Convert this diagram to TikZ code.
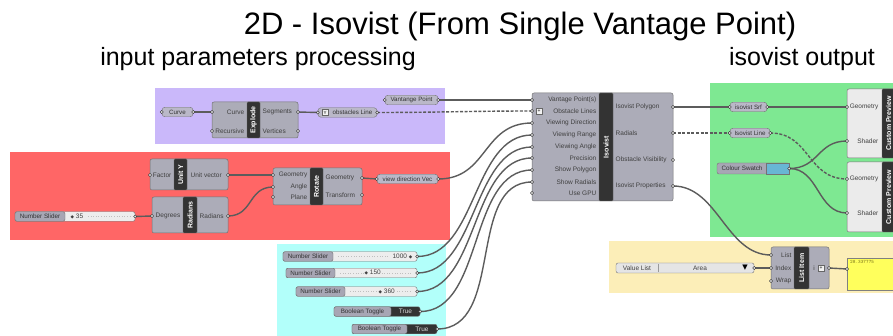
\documentclass[tikz,border=0pt]{standalone}
\usepackage{fontspec}
\setmainfont{Liberation Sans}
\newfontfamily\symfont{DejaVu Sans}
\usetikzlibrary{positioning, arrows.meta, shapes, calc}
\definecolor{grpPurple}{RGB}{202,184,250}
\definecolor{grpRed}{RGB}{255,102,102}
\definecolor{grpCyan}{RGB}{178,255,250}
\definecolor{grpGreen}{RGB}{126,232,146}
\definecolor{grpYellow}{RGB}{252,238,184}
\definecolor{compFill}{RGB}{172,172,184}
\definecolor{prmFill}{RGB}{186,184,200}
\definecolor{wireGray}{RGB}{92,92,92}
\definecolor{swatchBlue}{RGB}{104,182,212}
\definecolor{panelYellow}{RGB}{255,255,92}

\pgfdeclarelayer{groups}
\pgfdeclarelayer{wires}
\pgfsetlayers{groups,wires,main}

\tikzset{
  comp/.style={draw=black!55, fill=compFill, rounded corners=2pt, line width=0.5pt, inner sep=0pt},
  band/.style={draw=black!60, fill=black!80, rounded corners=1pt, text=white, inner sep=0pt, rotate=90,
               font=\bfseries\fontsize{7}{8}\selectfont},
  prm/.style={draw=black!55, fill=prmFill, rounded corners=3pt, inner sep=0pt, minimum height=9.5pt,
              font=\fontsize{6.2}{7}\selectfont, text=black!80},
  port/.style={circle, draw=black!85, fill=black!12, line width=0.4pt, inner sep=0pt, minimum size=3.2pt},
  lbl/.style={font=\fontsize{6.5}{7}\selectfont, text=black!75, inner sep=0.5pt},
  slider/.style={draw=black!55, fill=black!7, rounded corners=2pt, inner sep=0pt, minimum height=9.5pt},
  sldlabel/.style={draw=black!55, fill=prmFill!90!black, rounded corners=2pt, inner sep=0pt, minimum height=9.5pt,
                   font=\fontsize{6.3}{7}\selectfont, text=black!80},
  wire/.style={draw=wireGray, line width=1.4pt},
  listwire/.style={wire, dash pattern=on 3pt off 1.6pt},
}

\begin{document}
\begin{tikzpicture}[x=1pt, y=-1pt]
\useasboundingbox (0,0) rectangle (893,336);
\clip (0,0) rectangle (893,336);

% groups
\begin{pgfonlayer}{groups}
  \fill[white] (0,0) rectangle (893,336);
  \fill[grpPurple] (155,88) rectangle (445,144);
  \fill[grpRed] (10,152) rectangle (450,240);
  \fill[grpCyan] (277,244) rectangle (446,340);
  \fill[grpGreen] (710,83) rectangle (900,237);
  \fill[grpYellow] (609,241) rectangle (900,293);
\end{pgfonlayer}

% headings
\node[font=\fontsize{31}{36}\selectfont, anchor=base, inner sep=0pt] (title) at (520,35) {2D - Isovist (From Single Vantage Point)};
\node[font=\fontsize{25}{30}\selectfont, anchor=base, inner sep=0pt] (subIn) at (258,66) {input parameters processing};
\node[font=\fontsize{25}{30}\selectfont, anchor=base, inner sep=0pt] (subOut) at (802,66) {isovist output};

% ---- curve / explode
\node[prm, minimum width=31pt] (curve) at (177.5,112) {Curve};
\node[port] (curve-in) at (curve.west) {};
\node[port] (curve-out) at (curve.east) {};

\node[comp, minimum width=86pt, minimum height=36pt] (explode) at (255,120) {};
\node[band, minimum width=36pt, minimum height=13pt] (explodeNick) at (253.5,120) {Explode};
\node[lbl, anchor=east] at (245,112) {Curve};
\node[lbl, anchor=east] at (245,131) {Recursive};
\node[lbl, anchor=west] at (262,112) {Segments};
\node[lbl, anchor=west] at (262,131) {Vertices};
\node[port] (explode-curve) at (212,112) {};
\node[port] (explode-rec) at (212,131) {};
\node[port] (explode-seg) at (298,112) {};
\node[port] (explode-vert) at (298,131) {};

\node[prm, minimum width=59pt] (obstLine) at (347.5,112.5) {\hspace{10pt}obstacles Line};
\node[draw=black!60, fill=black!5, minimum size=6pt, inner sep=0pt, font=\fontsize{4.5}{5}\selectfont] (obstIcon) at (325,112.5) {Y};
\node[port] (obstLine-in) at (obstLine.west) {};
\node[port] (obstLine-out) at (obstLine.east) {};

\node[prm, minimum width=53pt] (vantage) at (411.5,100) {Vantange Point};
\node[port] (vantage-in) at (vantage.west) {};
\node[port] (vantage-out) at (vantage.east) {};

% ---- direction vector
\node[comp, minimum width=78pt, minimum height=31pt] (unitY) at (189,174.5) {};
\node[band, minimum width=31pt, minimum height=13pt] (unitYNick) at (180.5,174.5) {Unit Y};
\node[lbl, anchor=east] at (172,175) {Factor};
\node[lbl, anchor=west] at (190,175) {Unit vector};
\node[port] (unitY-fac) at (150,175) {};
\node[port] (unitY-vec) at (228,175) {};

\node[comp, minimum width=76pt, minimum height=36pt] (radians) at (190,215) {};
\node[band, minimum width=36pt, minimum height=14pt] (radiansNick) at (190,215) {Radians};
\node[lbl, anchor=east] at (181,216) {Degrees};
\node[lbl, anchor=west] at (199,216) {Radians};
\node[port] (radians-deg) at (152,216) {};
\node[port] (radians-rad) at (228,216) {};

\node[slider, minimum width=120pt] (sldAngle) at (75,216.5) {};
\node[sldlabel, minimum width=50pt, anchor=west] at (sldAngle.west) {Number Slider};
\node[lbl, anchor=west] at (70,216.5) {{\symfont\fontsize{4.5}{5}\selectfont◆} 35};
\draw[black!25, dotted, line width=0.6pt] (88,216.5) -- (130,216.5);
\node[port] (sldAngle-out) at (sldAngle.east) {};

\node[comp, minimum width=89pt, minimum height=37pt] (rotate) at (317.5,186.5) {};
\node[band, minimum width=37pt, minimum height=13pt] (rotateNick) at (316.5,186.5) {Rotate};
\node[lbl, anchor=east] at (308,175) {Geometry};
\node[lbl, anchor=east] at (308,187) {Angle};
\node[lbl, anchor=east] at (308,197) {Plane};
\node[lbl, anchor=west] at (325,178) {Geometry};
\node[lbl, anchor=west] at (325,195) {Transform};
\node[port] (rotate-geo) at (273,175) {};
\node[port] (rotate-ang) at (273,187) {};
\node[port] (rotate-pln) at (273,197) {};
\node[port] (rotate-out) at (362,178) {};
\node[port] (rotate-xf) at (362,195) {};

\node[prm, minimum width=61pt] (viewDir) at (407.5,179) {view direction Vec};
\node[port] (viewDir-in) at (viewDir.west) {};
\node[port] (viewDir-out) at (viewDir.east) {};

% ---- sliders and toggles
\node[slider, minimum width=134pt] (sldRange) at (350,256.5) {};
\node[sldlabel, minimum width=50pt, anchor=west] at (sldRange.west) {Number Slider};
\draw[black!25, dotted, line width=0.6pt] (338,256.5) -- (388,256.5);
\node[lbl, anchor=east] at (413,256.5) {1000 {\symfont\fontsize{4.5}{5}\selectfont◆}};
\node[port] (sldRange-out) at (sldRange.east) {};

\node[slider, minimum width=131pt] (sldView) at (351.5,273) {};
\node[sldlabel, minimum width=49pt, anchor=west] at (sldView.west) {Number Slider};
\draw[black!25, dotted, line width=0.6pt] (340,273) -- (412,273);
\node[lbl, anchor=west, fill=black!7] at (364,273) {{\symfont\fontsize{4.5}{5}\selectfont◆} 150};
\node[port] (sldView-out) at (sldView.east) {};

\node[slider, minimum width=121pt] (sldPrec) at (356.5,291.5) {};
\node[sldlabel, minimum width=49pt, anchor=west] at (sldPrec.west) {Number Slider};
\draw[black!25, dotted, line width=0.6pt] (350,291.5) -- (412,291.5);
\node[lbl, anchor=west, fill=black!7] at (378,291.5) {{\symfont\fontsize{4.5}{5}\selectfont◆} 360};
\node[port] (sldPrec-out) at (sldPrec.east) {};

\node[slider, minimum width=86pt, fill=black!80] (tglPoly) at (377,311.5) {};
\node[sldlabel, minimum width=57pt, anchor=west] at (tglPoly.west) {Boolean Toggle};
\node[font=\fontsize{6.5}{7}\selectfont, text=white!85!black, inner sep=0pt] at (405.5,311.5) {True};
\node[port] (tglPoly-out) at (tglPoly.east) {};

\node[slider, minimum width=85pt, fill=black!80] (tglRad) at (394.5,329) {};
\node[sldlabel, minimum width=55pt, anchor=west] at (tglRad.west) {Boolean Toggle};
\node[font=\fontsize{6.5}{7}\selectfont, text=white!85!black, inner sep=0pt] at (422,329) {True};
\node[port] (tglRad-out) at (tglRad.east) {};

% ---- isovist component
\node[comp, minimum width=141pt, minimum height=108pt] (isovist) at (602.5,147) {};
\node[band, minimum width=108pt, minimum height=14pt] (isovistNick) at (606,147) {Isovist};
\foreach \txt/\yy [count=\i] in {Vantage Point(s)/100, Obstacle Lines/111, Viewing Direction/123,
    Viewing Range/135, Viewing Angle/147, Precision/158, Show Polygon/170, Show Radials/182, Use GPU/193}
{
  \node[lbl, anchor=east] at (597,\yy) {\txt};
  \node[port] (iso-in\i) at (532,\yy) {};
}
\foreach \txt/\yy [count=\i] in {Isovist Polygon/107, Radials/133, Obstacle Visibility/160, Isovist Properties/186}
{
  \node[lbl, anchor=west] at (615,\yy) {\txt};
  \node[port] (iso-out\i) at (673,\yy) {};
}
\node[draw=black!60, fill=black!5, minimum size=6pt, inner sep=0pt, font=\fontsize{5}{5}\selectfont] (isoFlat) at (539,111) {+};

% ---- preview
\node[prm, minimum width=37pt] (isoSrf) at (748.5,107) {isovist Srf};
\node[port] (isoSrf-in) at (isoSrf.west) {};
\node[port] (isoSrf-out) at (isoSrf.east) {};

\node[prm, minimum width=40pt] (isoLine) at (750,133) {Isovist Line};
\node[port] (isoLine-in) at (isoLine.west) {};
\node[port] (isoLine-out) at (isoLine.east) {};

\node[sldlabel, minimum width=72pt, minimum height=11pt] (swatch) at (753,168.5) {\hspace{-22pt}Colour Swatch};
\node[draw=black!55, fill=swatchBlue, minimum width=23pt, minimum height=11pt, inner sep=0pt, anchor=east] (swatchCol) at (swatch.east) {};
\node[port] (swatch-out) at (swatch.east) {};

\node[comp, fill=black!8, minimum width=50pt, minimum height=69pt] (prevA) at (872,123.5) {};
\node[band, minimum width=69pt, minimum height=13pt] (prevANick) at (888.5,123.5) {Custom Preview};
\node[lbl, anchor=east] at (879,107) {Geometry};
\node[lbl, anchor=east] at (879,141) {Shader};
\node[port] (prevA-geo) at (847,107) {};
\node[port] (prevA-shd) at (847,141) {};

\node[comp, fill=black!8, minimum width=50pt, minimum height=70pt] (prevB) at (872,197) {};
\node[band, minimum width=70pt, minimum height=13pt] (prevBNick) at (888.5,197) {Custom Preview};
\node[lbl, anchor=east] at (879,179) {Geometry};
\node[lbl, anchor=east] at (879,213) {Shader};
\node[port] (prevB-geo) at (847,179) {};
\node[port] (prevB-shd) at (847,213) {};

% ---- properties
\node[slider, fill=black!10, minimum width=138pt, minimum height=10pt] (valList) at (685,268) {};
\draw[black!40] (658,264) -- (658,272);
\node[lbl] at (637,268) {Value List};
\node[lbl] at (700,268) {Area};
\node[inner sep=0pt, font=\symfont\fontsize{7}{7}\selectfont] at (745,268) {▼};
\node[port] (valList-out) at (valList.east) {};

\node[comp, minimum width=58pt, minimum height=42pt] (listItem) at (800,268) {};
\node[band, minimum width=42pt, minimum height=15pt] (listItemNick) at (801.5,268) {List Item};
\node[lbl, anchor=east] at (792,255) {List};
\node[lbl, anchor=east] at (792,268) {Index};
\node[lbl, anchor=east] at (792,281) {Wrap};
\node[lbl] at (814,268) {i};
\node[draw=black!60, fill=black!5, minimum size=6pt, inner sep=0pt, font=\fontsize{5}{5}\selectfont] (listIcon) at (821,268) {+};
\node[port] (listItem-lst) at (771,255) {};
\node[port] (listItem-idx) at (771,268) {};
\node[port] (listItem-wrp) at (771,281) {};
\node[port] (listItem-out) at (829,268) {};

\node[draw=black!50, fill=panelYellow, minimum width=52pt, minimum height=32pt, inner sep=0pt, anchor=north west] (panel) at (847,258) {};
\node[font=\ttfamily\fontsize{5}{6}\selectfont, text=olive!80!black, anchor=north west, inner sep=0pt] at (850,260) {28.337775};
\node[port] (panel-in) at (847,269) {};

% wires
\begin{pgfonlayer}{wires}
  \draw[wire] (curve-out.center) -- (explode-curve.center);
  \draw[wire] (explode-seg.center) -- (obstLine-in.center);
  \draw[listwire] (obstLine-out.center) .. controls +(60,0) and +(-60,0) .. (iso-in2.center);
  \draw[wire] (vantage-out.center) -- (iso-in1.center);
  \draw[wire] (sldAngle-out.center) -- (radians-deg.center);
  \draw[wire] (unitY-vec.center) -- (rotate-geo.center);
  \draw[wire] (radians-rad.center) .. controls +(25,0) and +(-25,0) .. (rotate-ang.center);
  \draw[wire] (rotate-out.center) -- (viewDir-in.center);
  \draw[wire] (viewDir-out.center) .. controls +(50,0) and +(-50,0) .. (iso-in3.center);
  \draw[wire] (sldRange-out.center) .. controls +(60,0) and +(-60,0) .. (iso-in4.center);
  \draw[wire] (sldView-out.center) .. controls +(60,0) and +(-60,0) .. (iso-in5.center);
  \draw[wire] (sldPrec-out.center) .. controls +(62,0) and +(-62,0) .. (iso-in6.center);
  \draw[wire] (tglPoly-out.center) .. controls +(64,0) and +(-64,0) .. (iso-in7.center);
  \draw[wire] (tglRad-out.center) .. controls +(68,0) and +(-66,0) .. (iso-in8.center);
  \draw[wire] (iso-out1.center) -- (isoSrf-in.center);
  \draw[wire] (isoSrf-out.center) -- (prevA-geo.center);
  \draw[listwire] (iso-out2.center) -- (isoLine-in.center);
  \draw[listwire] (isoLine-out.center) .. controls +(40,0) and +(-40,0) .. (prevB-geo.center);
  \draw[wire] (swatch-out.center) .. controls +(30,0) and +(-30,0) .. (prevA-shd.center);
  \draw[wire] (swatch-out.center) .. controls +(30,0) and +(-30,0) .. (prevB-shd.center);
  \draw[wire] (iso-out4.center) .. controls +(45,0) and +(-45,0) .. (listItem-lst.center);
  \draw[wire] (valList-out.center) -- (listItem-idx.center);
  \draw[wire] (listItem-out.center) -- (panel-in.center);
\end{pgfonlayer}
\end{tikzpicture}
\end{document}
